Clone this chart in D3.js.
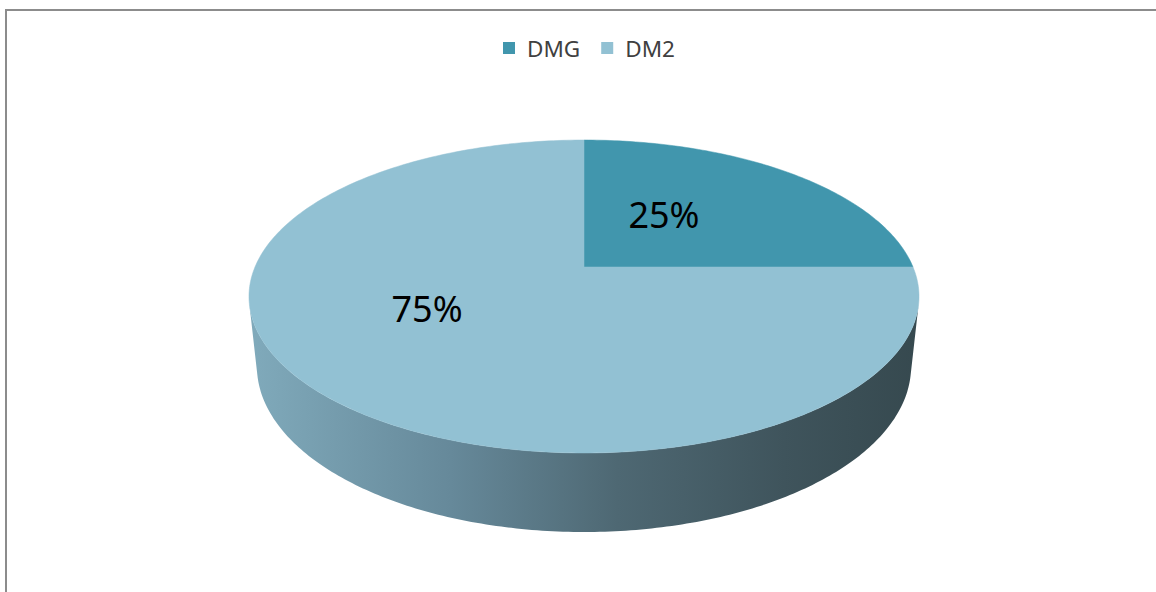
<!DOCTYPE html>
<html><head><meta charset="utf-8">
<script src="https://cdn.jsdelivr.net/npm/d3@7"></script>
<style>html,body{margin:0;padding:0;background:#fff;}svg{display:block;}</style>
</head><body>
<svg id="c" width="1156" height="592"></svg>
<script>
const categories = ["DMG", "DM2"];
const values = [25, 75];
const labels = ["25%", "75%"];
const colors = ["#4196ad", "#92c1d3"];

// layout (not data)
const W = 1156, H = 592;
const cx = 584, cy = 267;
const phi = Math.asin(0.4587), D = 4.714, F = 1551, thick = 0.2406;
const labelPlace = [{r: 0.451, a: 35.2}, {r: 0.525, a: 239.7}];

function proj(X, Y, Z) {
  const depth = D - Y * Math.cos(phi) - Z * Math.sin(phi);
  const up = -Y * Math.sin(phi) + Z * Math.cos(phi);
  return [cx + F * X / depth, cy - F * up / depth];
}
function pt(theta, r, Z) { return proj(r * Math.sin(theta), -r * Math.cos(theta), Z); }

const svg = d3.select("#c");
const defs = svg.append("defs");
const grad = defs.append("linearGradient").attr("id", "wall")
  .attr("gradientUnits", "userSpaceOnUse").attr("x1", 250).attr("x2", 918).attr("y1", 0).attr("y2", 0);
[[0, "#80aabb"], [0.3, "#66899a"], [0.55, "#4e6873"], [0.8, "#3f545c"], [1, "#36494f"]]
  .forEach(([o, c]) => grad.append("stop").attr("offset", o).attr("stop-color", c));

// frame
svg.append("line").attr("x1", 6).attr("x2", 6).attr("y1", 9).attr("y2", H).attr("stroke", "#8c8c8c").attr("stroke-width", 2);
svg.append("line").attr("x1", 5).attr("x2", W).attr("y1", 10).attr("y2", 10).attr("stroke", "#8c8c8c").attr("stroke-width", 2);

// side wall (silhouette)
const ys = 1 / (D * Math.cos(phi));
const t0 = Math.acos(-ys), t1 = 2 * Math.PI - t0;
const N = 200;
const wallPts = [];
for (let i = 0; i <= N; i++) { const t = t0 + (t1 - t0) * i / N; wallPts.push(pt(t, 1, 0)); }
for (let i = N; i >= 0; i--) { const t = t0 + (t1 - t0) * i / N; wallPts.push(pt(t, 1, -thick)); }
svg.append("path").attr("d", d3.line()(wallPts) + "Z").attr("fill", "url(#wall)");

// top face
const pie = d3.pie().sort(null).startAngle(0).endAngle(2 * Math.PI)(values);
const g = svg.append("g");
pie.forEach((s, i) => {
  const pts = [pt(0, 0, 0)];
  const n = Math.max(4, Math.ceil((s.endAngle - s.startAngle) / (2 * Math.PI) * 400));
  for (let j = 0; j <= n; j++) pts.push(pt(s.startAngle + (s.endAngle - s.startAngle) * j / n, 1, 0));
  g.append("path").attr("d", d3.line()(pts) + "Z").attr("fill", colors[i])
    .attr("stroke", colors[i]).attr("stroke-width", 0.5);
});
pie.forEach((s, i) => {
  const lp = labelPlace[i];
  const p = pt(lp.a * Math.PI / 180, lp.r, 0);
  svg.append("text").attr("x", p[0]).attr("y", p[1] + 13).attr("text-anchor", "middle")
    .attr("font-family", "Noto Sans, sans-serif").attr("font-size", 36).attr("fill", "#000")
    .text(labels[i]);
});

// legend
const leg = svg.append("g").attr("font-family", "Noto Sans, sans-serif").attr("font-size", 22.5).attr("fill", "#404040");
let lx = 503;
categories.forEach((c, i) => {
  leg.append("rect").attr("x", lx).attr("y", 42).attr("width", 12).attr("height", 12).attr("fill", colors[i]);
  const t = leg.append("text").attr("x", lx + 24).attr("y", 57).text(c);
  lx += 24 + t.node().getComputedTextLength() + 21;
});
</script>
</body></html>
